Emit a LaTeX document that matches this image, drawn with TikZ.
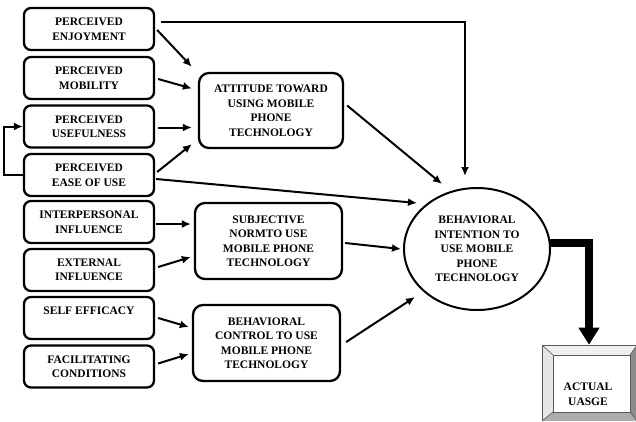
\documentclass[tikz,border=0pt]{standalone}
\usepackage{fontspec}
\setmainfont{Liberation Serif}
\usetikzlibrary{arrows.meta,calc,shapes.geometric}
\begin{document}
\begin{tikzpicture}[x=1pt,y=-1pt,
  font=\bfseries\fontsize{11.5}{14.5}\selectfont,
  lbox/.style={draw, line width=2.3pt, rounded corners=7pt, minimum width=130pt, minimum height=42pt, align=center, inner sep=0pt},
  mbox/.style={draw, line width=2.3pt, rounded corners=10pt, minimum width=147pt, minimum height=76pt, align=center, inner sep=0pt},
  arr/.style={line width=2pt, -{Latex[length=9pt 0 0,width=8pt 0 0]}},
  bevel/.style={draw=black!65, line width=0.6pt},
]
\useasboundingbox (0,0) rectangle (636,421);

% left boxes
\node[lbox] (enj)   at (89,29)    {PERCEIVED\\ENJOYMENT};
\node[lbox] (mob)   at (89,78)    {PERCEIVED\\MOBILITY};
\node[lbox] (use)   at (89,126.5) {PERCEIVED\\USEFULNESS};
\node[lbox] (ease)  at (89,175)   {PERCEIVED\\EASE OF USE};
\node[lbox] (inter) at (89,222)   {INTERPERSONAL\\INFLUENCE};
\node[lbox] (ext)   at (89,270)   {EXTERNAL\\INFLUENCE};
\node[lbox] (self)  at (89,318)   {SELF EFFICACY\\\mbox{}};
\node[lbox] (fac)   at (89,366.5) {FACILITATING\\CONDITIONS};

% middle boxes
\node[mbox, minimum width=144pt, minimum height=75pt] (att) at (271,110.5) {ATTITUDE TOWARD\\USING MOBILE\\PHONE\\TECHNOLOGY};
\node[mbox] (subj) at (268.5,241) {SUBJECTIVE\\NORMTO USE\\MOBILE PHONE\\TECHNOLOGY};
\node[mbox] (ctrl) at (266.5,343) {BEHAVIORAL\\CONTROL TO USE\\MOBILE PHONE\\TECHNOLOGY};

% ellipse
\node[draw, ellipse, line width=2pt, minimum width=146pt, minimum height=122pt, inner sep=0pt, align=center] (bi) at (477,249) {BEHAVIORAL\\INTENTION TO\\USE MOBILE\\PHONE\\TECHNOLOGY};

% actual usage beveled box
\fill[black!6]  (542,345) -- (637,345) -- (630,355) -- (553,355) -- cycle;
\fill[black!10] (542,345) -- (553,355) -- (553,412) -- (542,421) -- cycle;
\fill[black!45] (637,345) -- (630,355) -- (630,412) -- (637,421) -- cycle;
\fill[black!32] (542,421) -- (553,412) -- (630,412) -- (637,421) -- cycle;
\draw[bevel] (637,345) -- (542,345) -- (542,421);
\draw[bevel] (542,345) -- (553,355) (637,345) -- (630,355) (542,421) -- (553,412) (637,421) -- (630,412);
\node[draw=black!65, line width=0.6pt, fill=white, minimum width=77pt, minimum height=57pt, inner sep=0pt] (act) at (591.5,383.5) {};
\node[align=center] (actlbl) at (588,394) {ACTUAL\\UASGE};

% arrows to attitude
\draw[arr] ($(enj.east)+(2,1)$) -- ($(att.north west)+(-6,-5)$);
\draw[arr] ($(mob.east)+(3,1)$) -- ($(att.west)+(-6,-22)$);
\draw[arr] ($(use.east)+(3,1)$) -- ($(att.west)+(-6,17)$);
\draw[arr] ($(ease.east)+(2,-3)$) -- ($(att.south west)+(-6,-5)$);

% arrows to subjective norm
\draw[arr] ($(inter.east)+(1,2)$) -- ($(subj.west)+(-3,-17)$);
\draw[arr] ($(ext.east)+(3,-3)$) -- ($(subj.west)+(-3,16)$);

% arrows to behavioral control
\draw[arr] ($(self.east)+(3,0)$) -- ($(ctrl.west)+(-3,-16)$);
\draw[arr] ($(fac.east)+(3,-3)$) -- ($(ctrl.west)+(-3,11)$);

% arrows to behavioral intention
\draw[arr] ($(enj.east)+(6,-7)$) -| ($(bi.north)+(-12,-11)$);
\draw[arr] ($(att.east)+(3,-5)$) -- ($(bi.center)+(-35,-65)$);
\draw[arr] ($(ease.east)+(1,4)$) -- ($(bi.center)+(-60,-46)$);
\draw[arr] ($(subj.east)+(2,2)$) -- ($(bi.west)+(-2,0)$);
\draw[arr] ($(ctrl.east)+(5,-1)$) -- ($(bi.center)+(-62,48)$);

% feedback ease -> usefulness
\draw[arr] (ease.west) -- ++(-19,0) |- (use.west);

% thick arrow to actual usage
\draw[line width=8pt, -{Triangle[length=17pt 0 0,width=20pt 0 0]}] ($(bi.east)+(-2,-6)$) -| ($(act.north)+(-2.5,-10)$);
\end{tikzpicture}
\end{document}
